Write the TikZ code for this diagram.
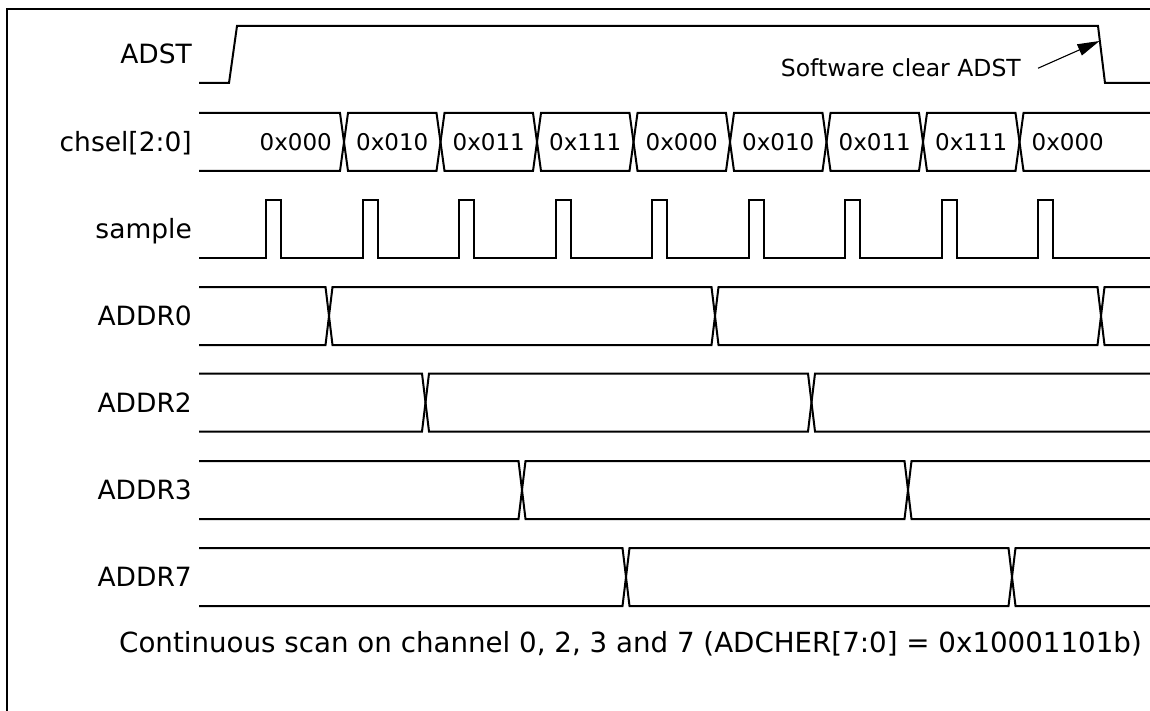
\documentclass[tikz,border=0pt]{standalone}
\usepackage{fontspec}
\setmainfont{DejaVu Sans}
\usetikzlibrary{arrows.meta}
\newcommand\tdcell[5]{% left x, right x, top y, bottom y, half width of crossing
  \draw[sig] (#1,{(#3+#4)/2}) -- ({#1+#5},#3) -- ({#2-#5},#3) -- (#2,{(#3+#4)/2}) -- ({#2-#5},#4) -- ({#1+#5},#4) -- cycle;}
\begin{document}
\begin{tikzpicture}[x=1pt,y=-1pt,
  sig/.style={line width=2pt, line join=miter},
  lbl/.style={anchor=base east, inner sep=0pt, font=\fontsize{26.5}{31}\selectfont},
  val/.style={inner sep=0pt, font=\fontsize{23}{28}\selectfont},
  note/.style={inner sep=0pt, font=\fontsize{23.5}{28}\selectfont},
  frame/.style={line width=2.8pt}]
\useasboundingbox (0,0) rectangle (1150,711);
\fill[white] (0,0) rectangle (1150,711);
\begin{scope}
\clip (0,0) rectangle (1150,711);
\draw[frame] (7,720) -- (7,9) -- (1160,9);
\end{scope}

% signal labels
\node[lbl] (lADST) at (192,64) {ADST};
\node[lbl] (lchsel) at (192,151.5) {chsel[2:0]};
\node[lbl] (lsample) at (192,238.5) {sample};
\node[lbl] (lADDR0) at (192,325.5) {ADDR0};
\node[lbl] (lADDR2) at (192,412) {ADDR2};
\node[lbl] (lADDR3) at (192,499.5) {ADDR3};
\node[lbl] (lADDR7) at (192,586.5) {ADDR7};

\begin{scope}
\clip (199,0) rectangle (1150,711);
% ADST
\draw[sig] (199,83) -- (229,83) -- (237,26) -- (1098,26) -- (1105,83) -- (1160,83);
% chsel bus
\foreach \a/\b in {100/344, 344/440.5, 440.5/537, 537/633.5, 633.5/730, 730/826.5, 826.5/923, 923/1019.5, 1019.5/1300}
  {\tdcell{\a}{\b}{113}{171}{4}}
% sample pulses
\draw[sig] (199,258) \foreach \k in {0,...,8}{ -- ({266+\k*96.5},258) -- ({266+\k*96.5},200) -- ({281+\k*96.5},200) -- ({281+\k*96.5},258)} -- (1160,258);
% ADDR0
\foreach \a/\b in {100/329, 329/715, 715/1101, 1101/1400}
  {\tdcell{\a}{\b}{287}{345}{3.5}}
% ADDR2
\foreach \a/\b in {100/425.5, 425.5/811.5, 811.5/1400}
  {\tdcell{\a}{\b}{373.5}{431.5}{3.5}}
% ADDR3
\foreach \a/\b in {100/522, 522/908, 908/1400}
  {\tdcell{\a}{\b}{461}{519}{3.5}}
% ADDR7
\foreach \a/\b in {100/626, 626/1012, 1012/1400}
  {\tdcell{\a}{\b}{548}{606}{3.5}}
\end{scope}

% chsel values
\foreach \v [count=\k] in {0x000,0x010,0x011,0x111,0x000,0x010,0x011,0x111,0x000}
  \node[val] (val\k) at ({344+(\k-1.5)*96.5},142) {\v};

% annotation
\node[note, anchor=base east] (sw) at (1021,77) {Software clear ADST};
\coordinate (clr) at (1099.5,41);
\draw[line width=1.1pt, -{Triangle[length=22pt,width=12pt]}] ([xshift=17pt]sw.east) -- (clr);

% caption
\node[anchor=base west, inner sep=0pt, font=\fontsize{27.7}{33}\selectfont] (cap) at (119,652) {Continuous scan on channel 0, 2, 3 and 7 (ADCHER[7:0] = 0x10001101b)};
\end{tikzpicture}
\end{document}
